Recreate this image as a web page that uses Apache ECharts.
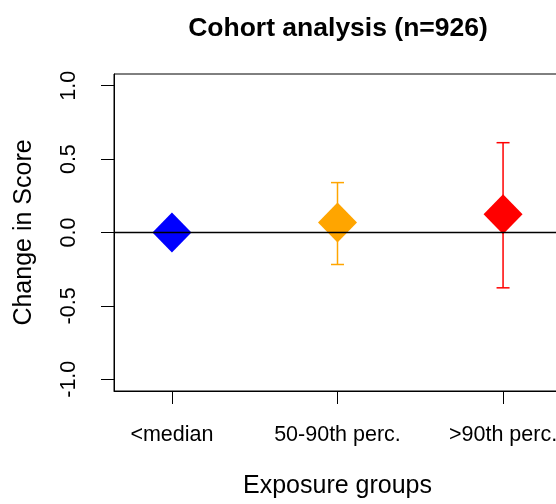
<!DOCTYPE html>
<html>
<head>
<meta charset="utf-8">
<script src="https://cdn.jsdelivr.net/npm/echarts@6/dist/echarts.min.js"></script>
<style>
  html, body { margin: 0; padding: 0; background: #fff; }
  #chart { width: 556px; height: 504px; }
</style>
</head>
<body>
<div id="chart"></div>
<script>
// ---- data ----
const categories = ['<median', '50-90th perc.', '>90th perc.'];
const positions = [1, 2, 3];
const estimates = [0.0, 0.068, 0.124];
const lowerCI = [null, -0.218, -0.377];
const upperCI = [null, 0.340, 0.612];
const colors = ['#0000FF', '#FFA500', '#FF0000'];
const yTicks = [-1.0, -0.5, 0.0, 0.5, 1.0];
const yTickLabels = ['-1.0', '-0.5', '0.0', '0.5', '1.0'];

const FONT = '"Liberation Sans", Arial, Helvetica, sans-serif';

const errData = [];
positions.forEach((p, i) => {
  if (lowerCI[i] != null && upperCI[i] != null) errData.push([p, lowerCI[i], upperCI[i], i]);
});
const pointData = positions.map((p, i) => ({
  value: [p, estimates[i]],
  itemStyle: { color: colors[i], opacity: 1 }
}));

const chart = echarts.init(document.getElementById('chart'), null, { renderer: 'canvas' });
chart.setOption({
  animation: false,
  backgroundColor: '#fff',
  title: {
    text: 'Cohort analysis (n=926)',
    left: 333,
    top: 10,
    textAlign: 'center',
    textStyle: { fontFamily: FONT, fontWeight: 'bold', fontSize: 26.5, color: '#000' }
  },
  grid: {
    left: 114, right: -5, top: 74, bottom: 113,
    show: true, borderColor: '#000', borderWidth: 1,
    containLabel: false, outerBoundsMode: 'none'
  },
  xAxis: {
    type: 'value', min: 0.65, max: 3.35,
    splitLine: { show: false },
    axisLine: { show: true, onZero: false, lineStyle: { color: '#000', width: 1 } },
    axisTick: { show: true, customValues: positions, length: 13, inside: false, lineStyle: { color: '#000', width: 1 } },
    axisLabel: {
      customValues: positions, margin: 33,
      formatter: v => categories[Math.round(v) - 1],
      fontFamily: FONT, fontSize: 21.5, color: '#000'
    },
    name: 'Exposure groups', nameLocation: 'middle', nameGap: 83,
    nameTextStyle: { fontFamily: FONT, fontSize: 25, color: '#000' }
  },
  yAxis: {
    type: 'value', min: -1.08, max: 1.08,
    splitLine: { show: false },
    axisLine: { show: true, onZero: false, lineStyle: { color: '#000', width: 1 } },
    axisTick: { show: true, customValues: yTicks, length: 13, inside: false, lineStyle: { color: '#000', width: 1 } },
    axisLabel: {
      customValues: yTicks, margin: 34, rotate: 90,
      formatter: v => yTickLabels[yTicks.findIndex(t => Math.abs(t - v) < 1e-9)],
      fontFamily: FONT, fontSize: 21.5, color: '#000'
    },
    name: 'Change in Score', nameLocation: 'middle', nameGap: 77, nameRotate: 90,
    nameTextStyle: { fontFamily: FONT, fontSize: 25, color: '#000' }
  },
  series: [
    {
      type: 'custom',
      z: 2,
      data: errData,
      renderItem: function (params, api) {
        const x = api.value(0);
        const lo = api.coord([x, api.value(1)]);
        const hi = api.coord([x, api.value(2)]);
        const c = colors[api.value(3)];
        const hw = 6.5;
        const style = { stroke: c, lineWidth: 1.5, fill: null };
        return {
          type: 'group',
          children: [
            { type: 'line', shape: { x1: lo[0], y1: lo[1], x2: hi[0], y2: hi[1] }, style },
            { type: 'line', shape: { x1: lo[0] - hw, y1: lo[1], x2: lo[0] + hw, y2: lo[1] }, style },
            { type: 'line', shape: { x1: hi[0] - hw, y1: hi[1], x2: hi[0] + hw, y2: hi[1] }, style }
          ]
        };
      }
    },
    {
      type: 'scatter',
      z: 3,
      symbol: 'diamond',
      symbolSize: [39, 40],
      itemStyle: { opacity: 1 },
      data: pointData
    },
    {
      type: 'line',
      z: 5,
      data: [],
      silent: true,
      markLine: {
        silent: true,
        symbol: ['none', 'none'],
        label: { show: false },
        lineStyle: { color: '#000', width: 1.3, type: 'solid' },
        data: [{ yAxis: 0 }],
        z: 5
      }
    }
  ]
});
</script>
</body>
</html>
